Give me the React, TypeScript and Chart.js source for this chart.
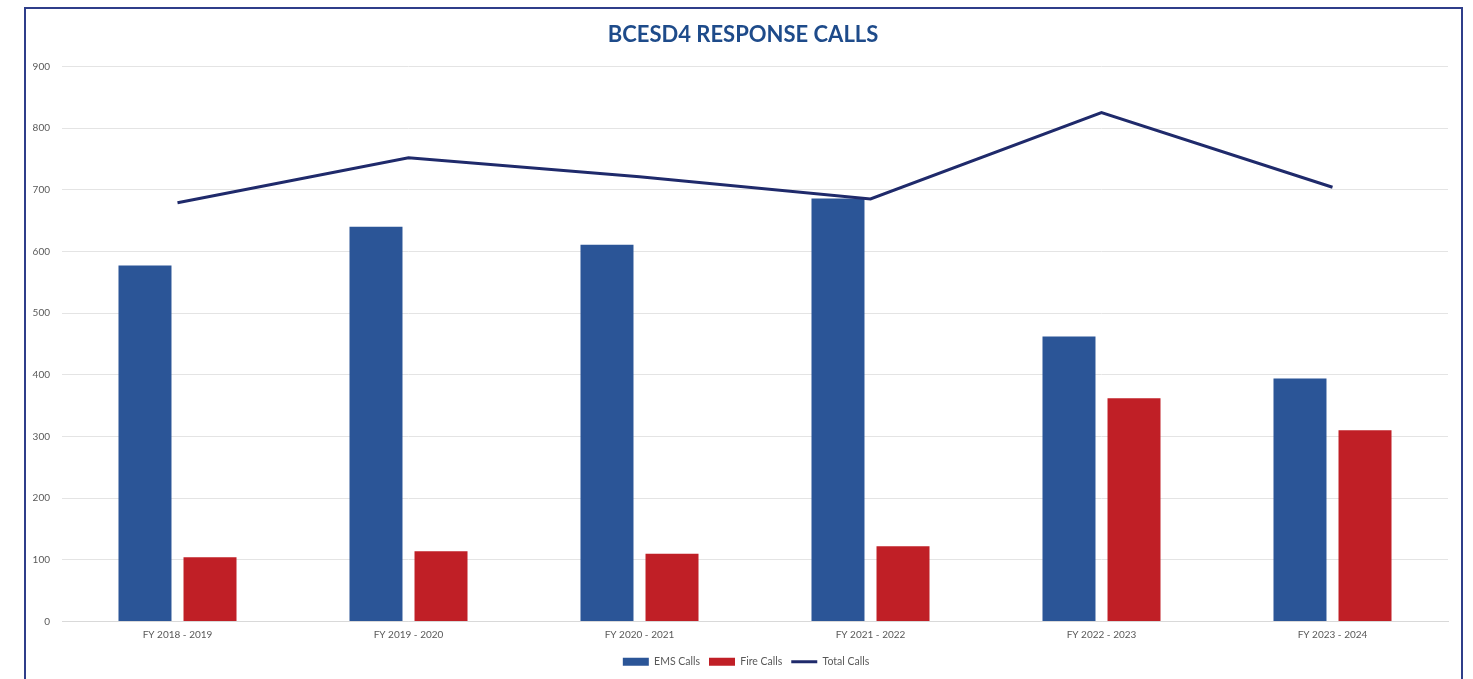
import React, { useEffect, useRef } from "react";
import { Chart, registerables } from "chart.js";

Chart.register(...registerables);

const categories = ["FY 2018 - 2019", "FY 2019 - 2020", "FY 2020 - 2021", "FY 2021 - 2022", "FY 2022 - 2023", "FY 2023 - 2024"];
const emsCalls = [577, 640, 611, 686, 462, 394];
const fireCalls = [104, 114, 110, 122, 362, 310];
const totalCalls = [679, 752, 721, 685, 825, 704];
const titleText = "BCESD4 RESPONSE CALLS";

const shiftBoxes = {
  id: "shiftBoxes",
  afterLayout(chart: any) {
    if (chart.titleBlock) chart.titleBlock.left += 18;
    if (chart.legend) {
      chart.legend.left += 24;
    }
  },
};

export default function App() {
  const ref = useRef<HTMLCanvasElement | null>(null);

  useEffect(() => {
    document.body.style.margin = "0";
    const ctx = ref.current;
    if (!ctx) return;
    const font = "Lato, 'Open Sans', sans-serif";
    const chart = new Chart(ctx, {
      type: "bar",
      data: {
        labels: categories,
        datasets: [
          {
            type: "bar",
            label: "EMS Calls",
            data: emsCalls,
            backgroundColor: "#2b5597",
            categoryPercentage: 0.563,
            barPercentage: 0.815,
            order: 1,
          },
          {
            type: "bar",
            label: "Fire Calls",
            data: fireCalls,
            backgroundColor: "#c01f26",
            categoryPercentage: 0.563,
            barPercentage: 0.815,
            order: 1,
          },
          {
            type: "line",
            label: "Total Calls",
            data: totalCalls,
            borderColor: "#1f2a6b",
            backgroundColor: "#1f2a6b",
            borderWidth: 3,
            pointRadius: 0,
            tension: 0,
            order: 0,
          } as any,
        ],
      },
      plugins: [shiftBoxes],
      options: {
        responsive: false,
        animation: false,
        maintainAspectRatio: false,
        layout: { padding: { left: 20, right: 25, top: 0, bottom: 2 } },
        plugins: {
          title: {
            display: true,
            text: titleText,
            color: "#1e4b8a",
            font: { family: font, size: 22, weight: "bold" },
            padding: { top: 22, bottom: 18 },
          },
          legend: {
            position: "bottom",
            labels: {
              font: { family: font, size: 10.5 },
              color: "#595959",
              boxWidth: 26,
              boxHeight: 8,
              padding: 9,
              usePointStyle: true,
              pointStyleWidth: 26,
              sort: (a: any, b: any) => a.datasetIndex - b.datasetIndex,
              generateLabels: (c: any) => {
                const items = Chart.defaults.plugins.legend.labels.generateLabels(c);
                return items.map((it: any) => {
                  if (it.datasetIndex === 2) {
                    it.pointStyle = "line";
                    it.lineWidth = 3;
                    it.strokeStyle = "#1f2a6b";
                  } else {
                    it.pointStyle = "rect";
                    it.lineWidth = 0;
                    it.strokeStyle = it.fillStyle;
                  }
                  return it;
                });
              },
            },
          },
          tooltip: { enabled: false },
        },
        scales: {
          x: {
            grid: { display: false, drawTicks: false },
            border: { display: true, color: "#d9d9d9" },
            ticks: { font: { family: font, size: 10 }, color: "#595959", padding: 7, maxRotation: 0 },
          },
          y: {
            min: 0,
            max: 900,
            afterFit: (s: any) => {
              s.width = 42;
            },
            ticks: { stepSize: 100, font: { family: font, size: 10 }, color: "#595959", padding: 12 },
            grid: { color: "#e4e4e4", drawTicks: false },
            border: { display: false },
          },
        },
      },
    });
    return () => chart.destroy();
  }, []);

  return (
    <div style={{ position: "fixed", left: 0, top: 0, width: 1473, height: 679, overflow: "hidden", background: "#fff" }}>
      <div
        style={{
          position: "absolute",
          left: 24,
          top: 7,
          width: 1439,
          height: 700,
          border: "2px solid #2f3e8a",
          boxSizing: "border-box",
        }}
      />
      <canvas ref={ref} width={1473} height={679} style={{ position: "absolute", left: 0, top: 0, width: 1473, height: 679 }} />
    </div>
  );
}
